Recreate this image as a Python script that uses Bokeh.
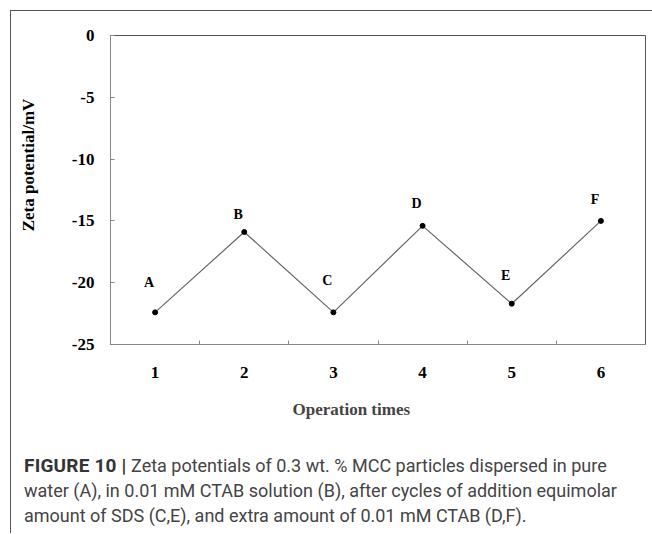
from bokeh.plotting import figure
from bokeh.models import FixedTicker, Range1d, Div, Title
from bokeh.layouts import column, row
from bokeh.core.properties import value
from bokeh.embed import file_html
from bokeh.resources import INLINE

# ---- data ----
operations = [1, 2, 3, 4, 5, 6]
zeta = [-22.4, -15.9, -22.4, -15.4, -21.7, -15.0]
point_labels = ["A", "B", "C", "D", "E", "F"]
label_y = [-20.0, -14.5, -19.8, -13.6, -19.4, -13.3]
y_ticks = [0, -5, -10, -15, -20, -25]
y_tick_labels = ["0", "-5", "-10", "-15", "-20", "-25"]
x_ticks = [1, 2, 3, 4, 5, 6]
x_boundaries = [1.5, 2.5, 3.5, 4.5, 5.5]
x_title = "Operation times"
y_title = "Zeta potential/mV"
caption_bold = "FIGURE 10 |"
caption_lines = [
    "Zeta potentials of 0.3 wt. % MCC particles dispersed in pure",
    "water (A), in 0.01 mM CTAB solution (B), after cycles of addition equimolar",
    "amount of SDS (C,E), and extra amount of 0.01 mM CTAB (D,F).",
]

SERIF = "Liberation Serif"
YDIV_W = 40
FIG_H = 425

p = figure(width=641 - YDIV_W, height=FIG_H, x_range=Range1d(0.5, 6.5), y_range=Range1d(-25, 0),
           output_backend="svg", toolbar_location=None,
           min_border_left=99 - YDIV_W, min_border_right=7, min_border_top=24,
           min_border_bottom=92, margin=0)
p.background_fill_color = "white"
p.border_fill_color = "white"
p.outline_line_color = "#555"
p.grid.visible = False

# x axis
p.xaxis.ticker = FixedTicker(ticks=x_ticks, minor_ticks=x_boundaries)
p.xaxis.major_tick_line_color = None
p.xaxis.minor_tick_in = 4
p.xaxis.minor_tick_out = 0
p.xaxis.minor_tick_line_color = "#888"
p.xaxis.major_label_standoff = 16
# y axis
p.yaxis.ticker = FixedTicker(ticks=y_ticks, minor_ticks=[])
p.yaxis.major_label_overrides = {t: s for t, s in zip(y_ticks, y_tick_labels)}
p.yaxis.major_tick_in = 4
p.yaxis.major_tick_out = 0
p.yaxis.major_tick_line_color = "#888"
p.yaxis.minor_tick_line_color = None
p.yaxis.major_label_standoff = 16
for ax in (p.xaxis, p.yaxis):
    ax.axis_line_color = "#888"
    ax.major_label_text_font = SERIF
    ax.major_label_text_font_style = "bold"
    ax.major_label_text_font_size = "17px"
    ax.major_label_text_color = "black"

p.line(operations, zeta, line_color="#666", line_width=1.2)
p.scatter(operations, zeta, size=5, color="black")
p.text(x=operations, y=label_y, text=point_labels, x_offset=-6,
       text_font=value(SERIF), text_font_style="bold", text_font_size="14px",
       text_align="center", text_baseline="middle", text_color="black")

# x title (offset so it sits where the original has it)
p.add_layout(Title(text=x_title, align="left", offset=182, standoff=34,
                   text_font=SERIF, text_font_style="bold", text_font_size="17px"), "below")

# y title as a rotated text block left of the figure
ydiv = Div(
    text=(
        f'<div style="position:relative;width:{YDIV_W}px;height:{FIG_H}px;">'
        '<div style="position:absolute;left:18px;top:154px;white-space:nowrap;'
        "transform:translate(-50%,-50%) rotate(-90deg);"
        "font-family:'Liberation Serif';font-weight:bold;font-size:17px;color:black;\">"
        f'{y_title}</div></div>'
    ),
    width=YDIV_W, height=FIG_H, margin=0,
)

cap_html = (
    '<div style="font-family:Roboto, sans-serif;font-size:18px;line-height:25px;'
    'color:#444;padding:17px 0 0 13px;white-space:nowrap;">'
    '<b style="color:#333;font-size:19px;letter-spacing:0.2px">'
    f'{caption_bold}</b> {caption_lines[0]}<br>'
    f'{caption_lines[1]}<br>{caption_lines[2]}</div>'
)
cap = Div(text=cap_html, width=641, height=97, margin=0)

layout = column(row(ydiv, p, margin=0), cap, margin=(10, 0, 0, 10),
                styles={"border-left": "1px solid #555", "border-top": "1px solid #555"})

open("out.html", "w").write(file_html(layout, INLINE))
